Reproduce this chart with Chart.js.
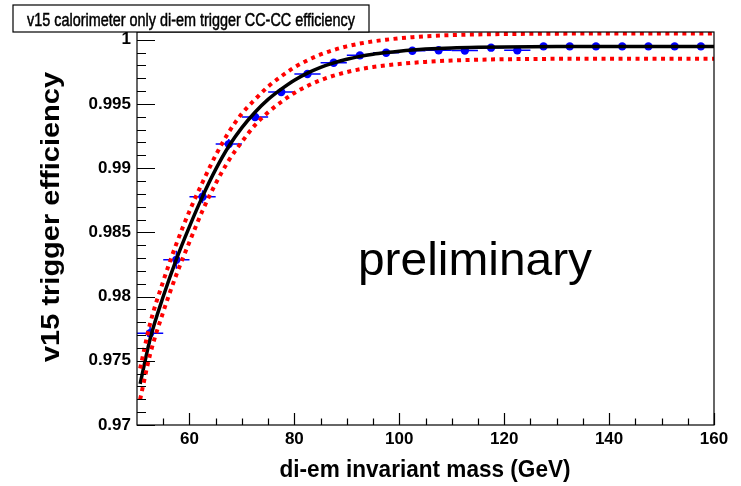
<!DOCTYPE html>
<html>
<head>
<meta charset="utf-8">
<title>v15 calorimeter only di-em trigger CC-CC efficiency</title>
<script src="https://cdn.jsdelivr.net/npm/chart.js@4.4.1/dist/chart.umd.min.js"></script>
<style>
  html, body { margin: 0; padding: 0; background: #fff; }
  #chart { display: block; }
</style>
</head>
<body>
<canvas id="chart" width="741" height="486"></canvas>
<script>
/** Measured efficiency, one point per 5 GeV bin. */
const massBins = [52.5, 57.5, 62.5, 67.5, 72.5, 77.5, 82.5, 87.5, 92.5, 97.5, 102.5, 107.5,
  112.5, 117.5, 122.5, 127.5, 132.5, 137.5, 142.5, 147.5, 152.5, 157.5];
const efficiency = [0.97714, 0.98286, 0.98777, 0.99187, 0.99398, 0.99592, 0.99733, 0.99820,
  0.99878, 0.99898, 0.99914, 0.99918, 0.99915, 0.99938, 0.99917, 0.99948, 0.99948, 0.99948,
  0.99948, 0.99948, 0.99948, 0.99948];
const effError = [0.0008, 0.0007, 0.0005, 0.0004, 0.0003, 0.0003, 0.0002, 0.0002, 0.00015,
  0.00015, 0.0001, 0.0001, 0.0001, 0.0001, 0.0001, 0, 0, 0, 0, 0, 0, 0];
const binHalfWidth = 2.5;

/** Fit curve and its error band. */
const fitMass = [50.6, 52.5, 55, 57.5, 60, 62.5, 65, 67.5, 70, 72.5, 75, 77.5, 80, 82.5, 85,
  87.5, 90, 92.5, 95, 97.5, 100, 102.5, 105, 110, 115, 120, 130, 140, 150, 160];
const fitEff = [0.9732, 0.9767, 0.9800, 0.9829, 0.98545, 0.9878, 0.9899, 0.9917, 0.99315,
  0.99435, 0.99535, 0.99615, 0.99685, 0.9974, 0.99785, 0.9982, 0.99848, 0.9987, 0.99887,
  0.99900, 0.99911, 0.9992, 0.99927, 0.99936, 0.99941, 0.99944, 0.99947, 0.99948, 0.99948, 0.99948];
const bandUpper = [0.9744, 0.9779, 0.9812, 0.9841, 0.98665, 0.9889, 0.9910, 0.9928, 0.99425,
  0.99535, 0.99635, 0.99715, 0.99785, 0.9984, 0.99885, 0.9992, 0.99948, 0.9997, 0.99987,
  1.0000, 1.00011, 1.0002, 1.00027, 1.00036, 1.00041, 1.00044, 1.00047, 1.00048, 1.00048, 1.00048];
const bandLower = [0.9720, 0.9755, 0.9788, 0.9817, 0.98425, 0.9867, 0.9888, 0.9906, 0.99205,
  0.99335, 0.99435, 0.99515, 0.99585, 0.9964, 0.99685, 0.9972, 0.99748, 0.9977, 0.99787,
  0.99800, 0.99811, 0.9982, 0.99827, 0.99838, 0.99844, 0.99848, 0.99851, 0.99852, 0.99852, 0.99852];

/** Axes. */
const xTicks = [60, 80, 100, 120, 140, 160];
const xMinorTicks = [55, 60, 65, 70, 75, 80, 85, 90, 95, 100, 105, 110, 115, 120, 125, 130,
  135, 140, 145, 150, 155];
const yTicks = [0.97, 0.975, 0.98, 0.985, 0.99, 0.995, 1];
const yTickLabels = ['0.97', '0.975', '0.98', '0.985', '0.99', '0.995', '1'];
const yMinorTicks = [0.971, 0.972, 0.973, 0.974, 0.976, 0.977, 0.978, 0.979, 0.981, 0.982,
  0.983, 0.984, 0.986, 0.987, 0.988, 0.989, 0.991, 0.992, 0.993, 0.994, 0.996, 0.997, 0.998, 0.999];

const titleText = 'v15 calorimeter only di-em trigger CC-CC efficiency';
const xTitle = 'di-em invariant mass (GeV)';
const yTitle = 'v15 trigger efficiency';
const stampText = 'preliminary';

const FONT = '"Liberation Sans", Arial, Helvetica, sans-serif';
const BLUE = '#0000ff';
const RED = '#ff0000';

// Draw text squeezed/stretched to a given width (ROOT fonts run wider than Arial)
function fitText(ctx, text, x, y, width, font, stroke) {
  ctx.save();
  ctx.font = font;
  const w = ctx.measureText(text).width;
  ctx.translate(x, y);
  ctx.scale(width / w, 1);
  ctx.textAlign = 'center';
  ctx.fillText(text, 0, 0);
  if (stroke) {
    ctx.lineWidth = stroke;
    ctx.strokeStyle = ctx.fillStyle;
    ctx.strokeText(text, 0, 0);
  }
  ctx.restore();
}

/** Blue error bars under the markers. */
const errorBars = {
  id: 'errorBars',
  beforeDatasetsDraw(chart) {
    const { ctx, scales: { x, y } } = chart;
    ctx.save();
    ctx.strokeStyle = BLUE;
    ctx.lineWidth = 1.5;
    massBins.forEach((m, i) => {
      const py = y.getPixelForValue(efficiency[i]);
      ctx.beginPath();
      ctx.moveTo(x.getPixelForValue(m - binHalfWidth), py);
      ctx.lineTo(x.getPixelForValue(m + binHalfWidth), py);
      if (effError[i] > 0) {
        const px = x.getPixelForValue(m);
        ctx.moveTo(px, y.getPixelForValue(efficiency[i] - effError[i]));
        ctx.lineTo(px, y.getPixelForValue(efficiency[i] + effError[i]));
      }
      ctx.stroke();
    });
    ctx.restore();
  }
};

/** ROOT-style frame with inward ticks, title box and labels. */
const rootFrame = {
  id: 'rootFrame',
  afterDraw(chart) {
    const { ctx, chartArea: a, scales: { x, y } } = chart;
    ctx.save();
    ctx.strokeStyle = '#000';
    ctx.lineWidth = 1.2;
    ctx.strokeRect(a.left, a.top, a.right - a.left, a.bottom - a.top);

    ctx.beginPath();
    yMinorTicks.forEach(v => {
      const py = Math.round(y.getPixelForValue(v)) + 0.5;
      ctx.moveTo(a.left, py); ctx.lineTo(a.left + 9, py);
    });
    yTicks.forEach(v => {
      const py = Math.round(y.getPixelForValue(v)) + 0.5;
      ctx.moveTo(a.left, py); ctx.lineTo(a.left + 18, py);
    });
    xMinorTicks.forEach(v => {
      const px = Math.round(x.getPixelForValue(v)) + 0.5;
      ctx.moveTo(px, a.bottom); ctx.lineTo(px, a.bottom - 6.5);
    });
    xTicks.forEach(v => {
      const px = Math.round(x.getPixelForValue(v)) + 0.5;
      ctx.moveTo(px, a.bottom); ctx.lineTo(px, a.bottom - 12);
    });
    ctx.stroke();

    // title box
    ctx.fillStyle = '#fff';
    ctx.fillRect(13, 5, 356, 27);
    ctx.lineWidth = 1.2;
    ctx.strokeRect(13, 5, 356, 27);
    ctx.fillStyle = '#000';
    ctx.textBaseline = 'alphabetic';
    fitText(ctx, titleText, 191, 26, 328, '18px ' + FONT, 0.5);

    // "preliminary" stamp
    fitText(ctx, stampText, 475, 275, 234, '46px ' + FONT);

    // axis titles
    fitText(ctx, xTitle, 425, 477, 291, 'bold 24px ' + FONT);
    ctx.save();
    ctx.translate(59, 217);
    ctx.rotate(-Math.PI / 2);
    fitText(ctx, yTitle, 0, 0, 290, 'bold 25px ' + FONT);
    ctx.restore();
    ctx.restore();
  }
};

const pointData = massBins.map((m, i) => ({ x: m, y: efficiency[i] }));
const fitData = fitMass.map((m, i) => ({ x: m, y: fitEff[i] }));
const upperData = fitMass.map((m, i) => ({ x: m, y: bandUpper[i] }));
const lowerData = fitMass.map((m, i) => ({ x: m, y: bandLower[i] }));

const bandStyle = {
  type: 'line',
  borderColor: RED,
  borderWidth: 4,
  borderDash: [4, 4.5],
  pointRadius: 0,
  fill: false,
  cubicInterpolationMode: 'monotone',
  order: 1,
};

new Chart(document.getElementById('chart'), {
  type: 'scatter',
  data: {
    datasets: [
      {
        label: 'efficiency',
        data: pointData,
        backgroundColor: BLUE,
        borderWidth: 0,
        pointRadius: 4.2,
        order: 3,
      },
      {
        type: 'line',
        label: 'fit',
        data: fitData,
        borderColor: '#000',
        borderWidth: 3.5,
        pointRadius: 0,
        fill: false,
        cubicInterpolationMode: 'monotone',
        order: 2,
      },
      Object.assign({ label: 'upper', data: upperData }, bandStyle),
      Object.assign({ label: 'lower', data: lowerData }, bandStyle),
    ]
  },
  options: {
    responsive: false,
    animation: false,
    devicePixelRatio: 1,
    layout: { padding: { top: 32, right: 27, left: 0, bottom: 0 } },
    plugins: {
      legend: { display: false },
      tooltip: { enabled: false },
      title: { display: false },
    },
    scales: {
      x: {
        type: 'linear',
        min: 50,
        max: 160,
        afterBuildTicks: (scale) => { scale.ticks = xTicks.map(v => ({ value: v })); },
        afterFit: (scale) => { scale.height = 61; },
        grid: { display: false, drawTicks: false },
        border: { display: false },
        ticks: {
          autoSkip: false,
          maxRotation: 0,
          padding: 4,
          color: '#000',
          font: { family: FONT, size: 17, weight: 'bold' },
        },
      },
      y: {
        type: 'linear',
        min: 0.97,
        max: 1.0006,
        afterBuildTicks: (scale) => { scale.ticks = yTicks.map(v => ({ value: v })); },
        afterFit: (scale) => { scale.width = 137; },
        grid: { display: false, drawTicks: false },
        border: { display: false },
        ticks: {
          autoSkip: false,
          padding: 6,
          color: '#000',
          font: { family: FONT, size: 17, weight: 'bold' },
          callback: (value) => yTickLabels[yTicks.findIndex(t => Math.abs(t - value) < 1e-9)],
        },
      },
    },
  },
  plugins: [errorBars, rootFrame],
});
</script>
</body>
</html>
